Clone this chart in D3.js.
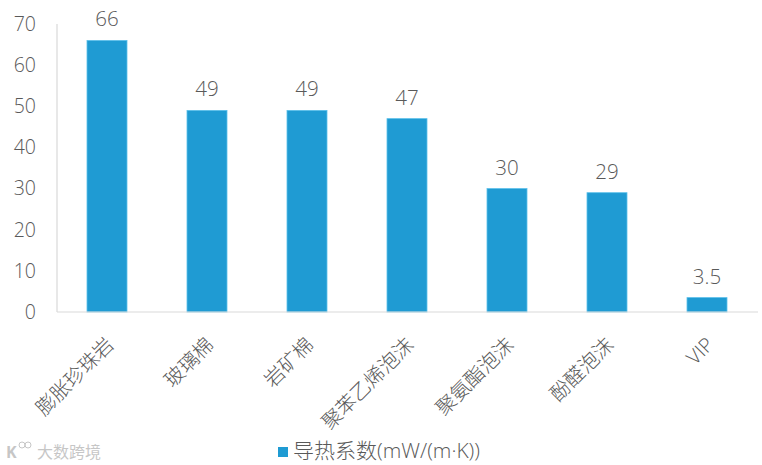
<!DOCTYPE html>
<html><head><meta charset="utf-8">
<script src="https://cdn.jsdelivr.net/npm/d3@7"></script>
<style>body{margin:0;background:#fff;} text{font-family:"Open Sans","Noto Sans CJK SC",sans-serif;}</style>
</head><body><svg id="c" width="762" height="465"></svg>
<script>
const categories = ["膨胀珍珠岩","玻璃棉","岩矿棉","聚苯乙烯泡沫","聚氨酯泡沫","酚醛泡沫","VIP"];
const values = [66,49,49,47,30,29,3.5];
const valueLabels = ["66","49","49","47","30","29","3.5"];
const yTicks = [0,10,20,30,40,50,60,70];
const seriesName = "导热系数(mW/(m·K))";

const svg = d3.select("#c");
const x = d3.scaleBand().domain(categories).range([57,757]).paddingInner(0.6).paddingOuter(0.3);
const y = d3.scaleLinear().domain([0,70]).range([312,24]);
const color = "#1f9bd3";
const txt = "#595959";

svg.append("line").attr("x1",57).attr("x2",57).attr("y1",y(70)).attr("y2",y(0)).attr("stroke","#d9d9d9").attr("stroke-width",1.2);
svg.selectAll(".yt").data(yTicks).enter().append("text")
  .attr("x",36).attr("y",d=>y(d)).attr("dy","0.35em").attr("text-anchor","end")
  .attr("font-size",19.5).attr("font-weight",300).attr("fill",txt).text(d=>d);

svg.selectAll(".bar").data(values).enter().append("rect")
  .attr("x",(d,i)=>x(categories[i])).attr("width",x.bandwidth())
  .attr("y",d=>y(d)).attr("height",d=>y(0)-y(d)).attr("fill",color)
  .attr("stroke","#5cc0ea").attr("stroke-width",0.8);

svg.append("line").attr("x1",57).attr("x2",758).attr("y1",y(0)).attr("y2",y(0)).attr("stroke","#d9d9d9").attr("stroke-width",1.2);

svg.selectAll(".vl").data(values).enter().append("text")
  .attr("x",(d,i)=>x(categories[i])+x.bandwidth()/2).attr("y",d=>y(d)-14)
  .attr("text-anchor","middle").attr("font-size",20.5).attr("font-weight",300).attr("fill",txt)
  .text((d,i)=>valueLabels[i]);

svg.selectAll(".xl").data(categories).enter().append("text")
  .attr("transform",d=>`translate(${x(d)+x.bandwidth()/2+8},${y(0)+34}) rotate(-45)`)
  .attr("text-anchor","end").attr("font-size",20).attr("font-weight",300).attr("fill",txt).text(d=>d);

svg.append("rect").attr("x",278).attr("y",447).attr("width",10).attr("height",10).attr("fill",color);
svg.append("text").attr("x",293).attr("y",451).attr("dy","0.35em").attr("font-size",21).attr("font-weight",300).attr("fill",txt).text(seriesName);

const wm = svg.append("g").attr("opacity",0.55);
wm.append("text").attr("x",6).attr("y",458).attr("font-size",16).attr("fill","#999").attr("font-weight",700).text("K");
wm.append("circle").attr("cx",22).attr("cy",445).attr("r",3).attr("fill","none").attr("stroke","#999");
wm.append("circle").attr("cx",28).attr("cy",445).attr("r",3).attr("fill","none").attr("stroke","#999");
wm.append("text").attr("x",37).attr("y",458).attr("font-size",16).attr("fill","#999").text("大数跨境");
</script></body></html>
